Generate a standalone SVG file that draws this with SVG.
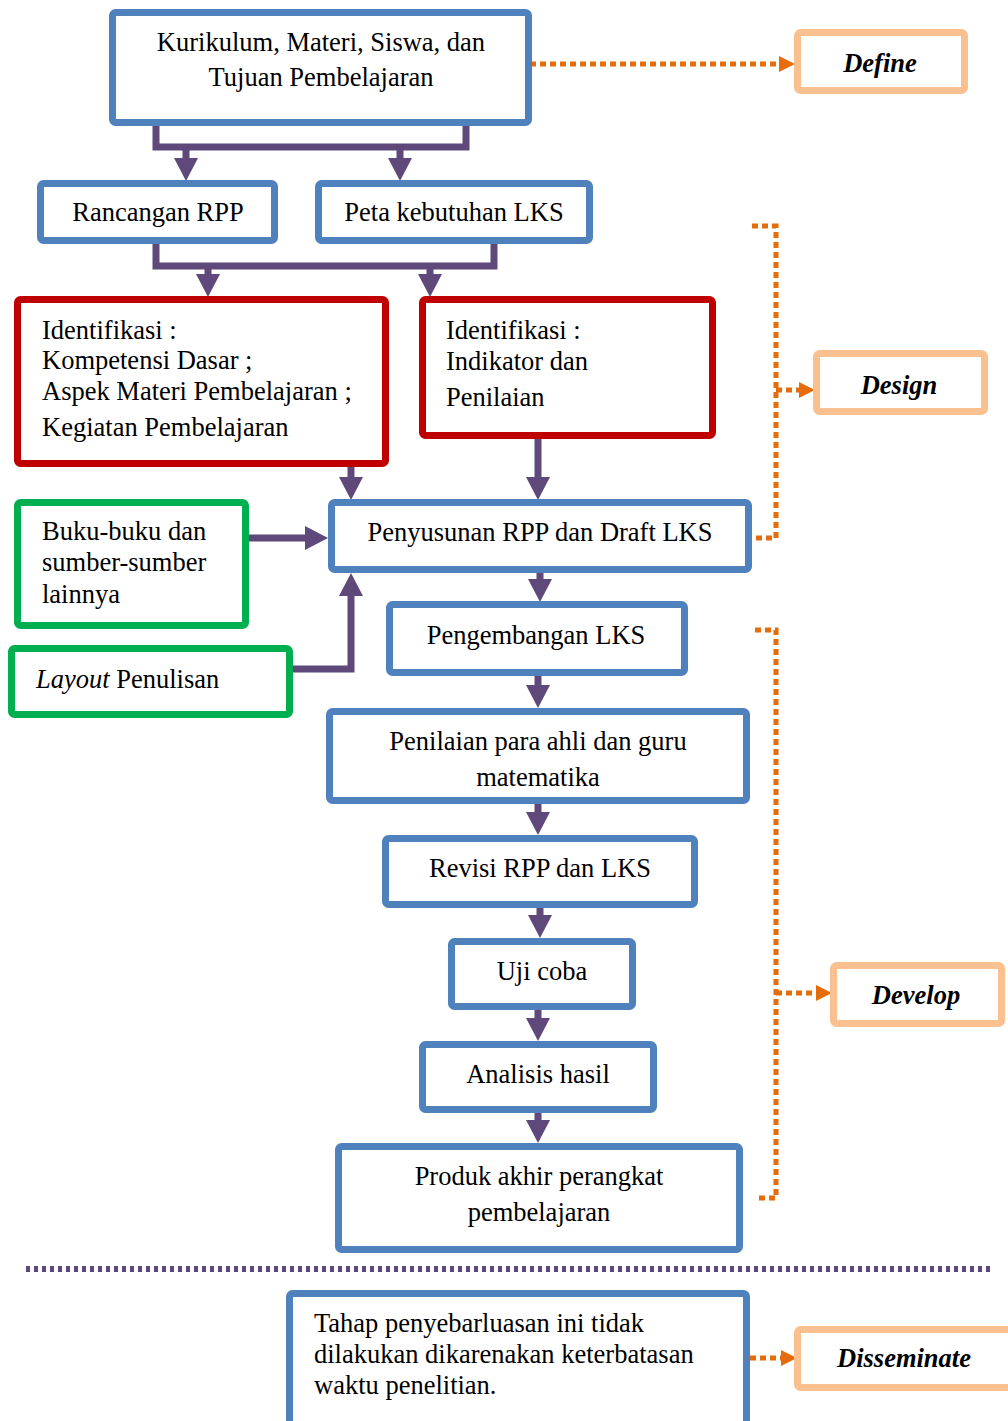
<svg xmlns="http://www.w3.org/2000/svg" width="1008" height="1421" viewBox="0 0 1008 1421">
<style>
.bg{fill:#ffffff}
.box{fill:#ffffff;stroke-width:7}
.blue{stroke:#4F81BD}
.red{stroke:#C00000}
.green{stroke:#00B050}
.phase{stroke:#FAC090}
.t{font-family:"Liberation Serif","Times New Roman",serif;font-size:26.5px;fill:#000}
.c{text-anchor:middle}
.p{font-weight:bold;font-style:italic}
.con{fill:none;stroke:#5F497A;stroke-width:7}
.dot{fill:none;stroke:#E46C0A;stroke-width:5;stroke-dasharray:6 4}
.sep{fill:none;stroke:#5F497A;stroke-width:6;stroke-dasharray:4 4}
</style>
<defs>
<marker id="ap" markerUnits="userSpaceOnUse" markerWidth="24" markerHeight="24" refX="0" refY="12" orient="auto">
<path d="M0,0 L23,12 L0,24 Z" fill="#5F497A"/>
</marker>
<marker id="ao" markerUnits="userSpaceOnUse" markerWidth="18" markerHeight="16" refX="0" refY="8" orient="auto">
<path d="M0,0 L16,8 L0,16 Z" fill="#E46C0A"/>
</marker>
</defs>
<rect class="bg" x="0" y="0" width="1008" height="1421"/>

<g id="connectors">
<path class="con" d="M156,126 V147 H466 V126"/>
<path class="con" d="M186,147 V158" marker-end="url(#ap)"/>
<path class="con" d="M400,147 V158" marker-end="url(#ap)"/>
<path class="con" d="M156,244 V266 H494 V244"/>
<path class="con" d="M208,266 V274" marker-end="url(#ap)"/>
<path class="con" d="M430,266 V274" marker-end="url(#ap)"/>
<path class="con" d="M351,467 V477" marker-end="url(#ap)"/>
<path class="con" d="M538,439 V477" marker-end="url(#ap)"/>
<path class="con" d="M249,538 H305" marker-end="url(#ap)"/>
<path class="con" d="M293,669 H351 V596" marker-end="url(#ap)"/>
<path class="con" d="M540,573 V579" marker-end="url(#ap)"/>
<path class="con" d="M538,676 V685" marker-end="url(#ap)"/>
<path class="con" d="M538,804 V812" marker-end="url(#ap)"/>
<path class="con" d="M540,908 V915" marker-end="url(#ap)"/>
<path class="con" d="M538,1010 V1018" marker-end="url(#ap)"/>
<path class="con" d="M538,1113 V1120" marker-end="url(#ap)"/>
<path class="dot" d="M530,64 H779" marker-end="url(#ao)"/>
<path class="dot" d="M752,226 H776 V538 H752"/>
<path class="dot" d="M776,390 H799" marker-end="url(#ao)"/>
<path class="dot" d="M755,630 H776 V1198 H755"/>
<path class="dot" d="M776,993 H816" marker-end="url(#ao)"/>
<path class="dot" d="M750,1358 H781" marker-end="url(#ao)"/>
<path class="sep" d="M26,1269 H992"/>
</g>

<g id="n-kurikulum"><rect class="box blue" x="112.5" y="12.5" width="416" height="110" rx="3"/>
<text class="t c" x="321" y="51">Kurikulum, Materi, Siswa, dan</text>
<text class="t c" x="321" y="86">Tujuan Pembelajaran</text></g>

<g id="n-rancangan"><rect class="box blue" x="40.5" y="183.5" width="234" height="57" rx="3"/>
<text class="t c" x="158" y="221">Rancangan RPP</text></g>

<g id="n-peta"><rect class="box blue" x="318.5" y="183.5" width="271" height="57" rx="3"/>
<text class="t c" x="454" y="221">Peta kebutuhan LKS</text></g>

<g id="n-ident1"><rect class="box red" x="17.5" y="299.5" width="368" height="164" rx="3"/>
<text class="t" x="42" y="339">Identifikasi :</text>
<text class="t" x="42" y="369">Kompetensi Dasar ;</text>
<text class="t" x="42" y="400">Aspek Materi Pembelajaran ;</text>
<text class="t" x="42" y="436">Kegiatan Pembelajaran</text></g>

<g id="n-ident2"><rect class="box red" x="422.5" y="299.5" width="290" height="136" rx="3"/>
<text class="t" x="446" y="339">Identifikasi :</text>
<text class="t" x="446" y="370">Indikator dan</text>
<text class="t" x="446" y="406">Penilaian</text></g>

<g id="n-penyusunan"><rect class="box blue" x="331.5" y="502.5" width="417" height="67" rx="3"/>
<text class="t c" x="540" y="541">Penyusunan RPP dan Draft LKS</text></g>

<g id="n-buku"><rect class="box green" x="17.5" y="502.5" width="228" height="123" rx="3"/>
<text class="t" x="42" y="540">Buku-buku dan</text>
<text class="t" x="42" y="571">sumber-sumber</text>
<text class="t" x="42" y="603">lainnya</text></g>

<g id="n-layout"><rect class="box green" x="11.5" y="648.5" width="278" height="66" rx="3"/>
<text class="t" x="36" y="688"><tspan font-style="italic">Layout</tspan> Penulisan</text></g>

<g id="n-pengembangan"><rect class="box blue" x="389.5" y="604.5" width="295" height="68" rx="3"/>
<text class="t c" x="536" y="644">Pengembangan LKS</text></g>

<g id="n-penilaian"><rect class="box blue" x="329.5" y="711.5" width="417" height="89" rx="3"/>
<text class="t c" x="538" y="750">Penilaian para ahli dan guru</text>
<text class="t c" x="538" y="786">matematika</text></g>

<g id="n-revisi"><rect class="box blue" x="385.5" y="838.5" width="309" height="66" rx="3"/>
<text class="t c" x="540" y="877">Revisi RPP dan LKS</text></g>

<g id="n-uji"><rect class="box blue" x="451.5" y="941.5" width="181" height="65" rx="3"/>
<text class="t c" x="542" y="980">Uji coba</text></g>

<g id="n-analisis"><rect class="box blue" x="422.5" y="1044.5" width="231" height="65" rx="3"/>
<text class="t c" x="538" y="1083">Analisis hasil</text></g>

<g id="n-produk"><rect class="box blue" x="338.5" y="1146.5" width="401" height="103" rx="3"/>
<text class="t c" x="539" y="1185">Produk akhir perangkat</text>
<text class="t c" x="539" y="1221">pembelajaran</text></g>

<g id="n-tahap"><rect class="box blue" x="289.5" y="1293.5" width="457" height="140" rx="3"/>
<text class="t" x="314" y="1332">Tahap penyebarluasan ini tidak</text>
<text class="t" x="314" y="1363">dilakukan dikarenakan keterbatasan</text>
<text class="t" x="314" y="1394">waktu penelitian.</text></g>

<g id="n-define"><rect class="box phase" x="797.5" y="32.5" width="167" height="58" rx="3"/>
<text class="t c p" x="880" y="72">Define</text></g>

<g id="n-design"><rect class="box phase" x="816.5" y="353.5" width="168" height="58" rx="3"/>
<text class="t c p" x="899" y="394">Design</text></g>

<g id="n-develop"><rect class="box phase" x="833.5" y="965.5" width="168" height="58" rx="3"/>
<text class="t c p" x="916" y="1004">Develop</text></g>

<g id="n-disseminate"><rect class="box phase" x="797.5" y="1329.5" width="220" height="58" rx="3"/>
<text class="t c p" x="904" y="1367">Disseminate</text></g>
</svg>
